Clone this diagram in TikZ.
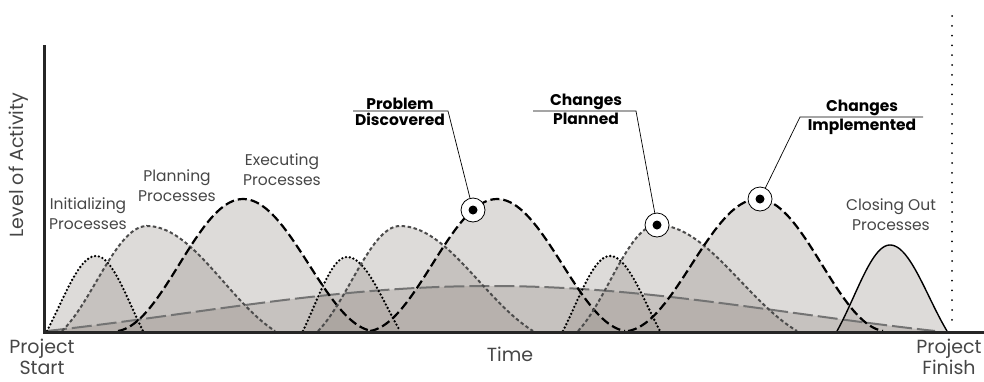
\documentclass[tikz,border=0pt]{standalone}
\usepackage{fontspec}
\setmainfont{Poppins}
\usepackage{tikz}
\usetikzlibrary{positioning}

\definecolor{humpfill}{RGB}{150,142,136}
\definecolor{labelgray}{RGB}{70,70,70}

% a hump on the time axis: start, peak, end, height, bell share
\newcommand\hump[5]{plot[domain=#1:#2,samples=40] (\x,{331-#4*((1-#5)*sin(90*((\x-#1)/(#2-#1)))+#5*(1-cos(180*((\x-#1)/(#2-#1))))/2)}) -- plot[domain=#2:#3,samples=40] (\x,{331-#4*((1-#5)*cos(90*((\x-#2)/(#3-#2)))+#5*(1+cos(180*((\x-#2)/(#3-#2))))/2)})}

\begin{document}
\begin{tikzpicture}[x=1pt, y=-1pt,
	humparea/.style={fill=humpfill, fill opacity=0.32},
	initline/.style={line width=2.6pt, dash pattern=on 0pt off 3.8pt, line cap=round},
	planline/.style={line width=2pt, dash pattern=on 3.5pt off 2.5pt, draw=black!70},
	execline/.style={line width=2.2pt, dash pattern=on 9pt off 4pt},
	ctrlline/.style={line width=2pt, dash pattern=on 20pt off 5pt, draw=black!55},
	closeline/.style={line width=1.4pt},
	lbl/.style={text=labelgray, font=\fontsize{15.5}{20}\selectfont, align=center},
	axlbl/.style={text=labelgray, font=\fontsize{19}{21}\selectfont, align=center},
	callout/.style={font=\bfseries\fontsize{15.5}{18}\selectfont, inner sep=1.5pt},
	marker/.style={circle, draw, line width=0.8pt, fill=white, minimum size=24pt, inner sep=0pt},
	leader/.style={line width=0.7pt}]
	\useasboundingbox (0,0) rectangle (984,381);

	\fill[humparea] \hump{47}{490}{935}{45}{0.3};
	\fill[humparea] \hump{47}{96}{143}{75}{0.2};
	\fill[humparea] \hump{62}{147}{275}{105}{0.5};
	\fill[humparea] \hump{118}{243}{372}{132}{0.9};
	\fill[humparea] \hump{303}{347}{400}{74}{0.2};
	\fill[humparea] \hump{318}{400}{533}{105}{0.5};
	\fill[humparea] \hump{370}{497}{625}{132}{0.9};
	\fill[humparea] \hump{563}{610}{660}{75}{0.2};
	\fill[humparea] \hump{578}{657}{797}{106}{0.5};
	\fill[humparea] \hump{628}{758}{883}{132}{0.9};
	\fill[humparea] \hump{837}{890}{947}{86}{0.3};

	\draw[ctrlline] \hump{47}{490}{935}{45}{0.3};
	\draw[initline] \hump{47}{96}{143}{75}{0.2};
	\draw[planline] \hump{62}{147}{275}{105}{0.5};
	\draw[execline] \hump{118}{243}{372}{132}{0.9};
	\draw[initline] \hump{303}{347}{400}{74}{0.2};
	\draw[planline] \hump{318}{400}{533}{105}{0.5};
	\draw[execline] \hump{370}{497}{625}{132}{0.9};
	\draw[initline] \hump{563}{610}{660}{75}{0.2};
	\draw[planline] \hump{578}{657}{797}{106}{0.5};
	\draw[execline] \hump{628}{758}{883}{132}{0.9};
	\draw[closeline] \hump{837}{890}{947}{86}{0.3};

	\draw[line width=3pt, black!85] (44,45) -- (44,332.5) -- (984,332.5);
	\draw[line width=2pt, dash pattern=on 0pt off 9.8pt, line cap=round] (952,16) -- (952,328);

	\node[axlbl, rotate=90] (level) at (19,165) {Level of Activity};
	\node[axlbl] (pstart) at (42,357) {Project\\Start};
	\node[axlbl] (time) at (510,354) {Time};
	\node[axlbl] (pfinish) at (949,357) {Project\\Finish};

	\node[lbl] (initlbl) at (88,214) {Initializing\\Processes};
	\node[lbl] (planlbl) at (177,186) {Planning\\Processes};
	\node[lbl] (execlbl) at (282,170) {Executing\\Processes};
	\node[lbl] (closelbl) at (891,215) {Closing Out\\Processes};

	\node[marker] (probmark) at (473,210) {};
	\node[marker] (planmark) at (657,225) {};
	\node[marker] (implmark) at (760,199) {};
	\fill (probmark) circle (4.5pt);
	\fill (planmark) circle (4.5pt);
	\fill (implmark) circle (4.5pt);

	\node[callout, anchor=south] (probtop) at (400,111) {Problem};
	\node[callout, anchor=north] (probbot) at (400,111) {Discovered};
	\coordinate (probL) at (353,111);
	\coordinate (probR) at (448,111);
	\draw[leader] (probL) -- (probR) -- (probmark);

	\node[callout, anchor=south] (plantop) at (586,111) {Changes};
	\node[callout, anchor=north] (planbot) at (586,111) {Planned};
	\coordinate (planL) at (533,111);
	\coordinate (planR) at (636,111);
	\draw[leader] (planL) -- (planR) -- (planmark);

	\node[callout, anchor=south] (impltop) at (862,117) {Changes};
	\node[callout, anchor=north] (implbot) at (862,117) {Implemented};
	\coordinate (implL) at (800,117);
	\coordinate (implR) at (923,117);
	\draw[leader] (implR) -- (implL) -- (implmark);
\end{tikzpicture}
\end{document}
